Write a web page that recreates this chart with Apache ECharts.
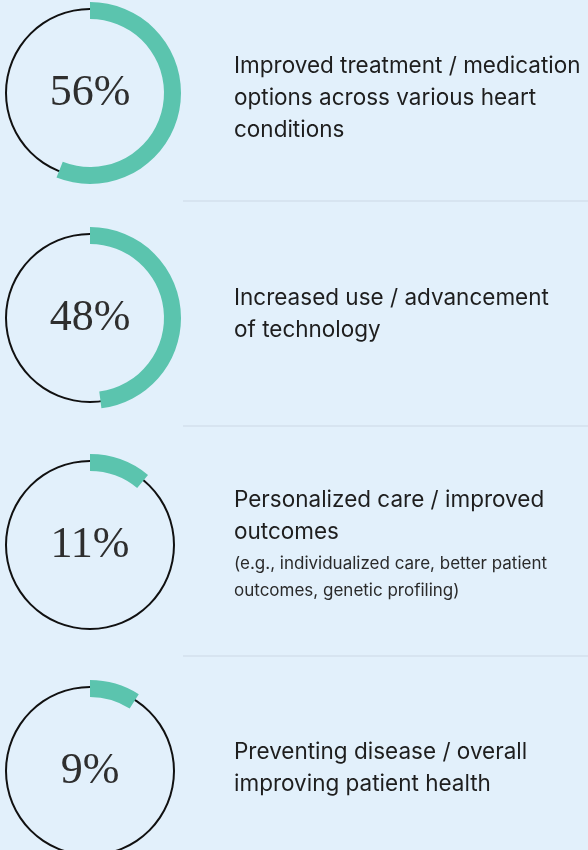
<!DOCTYPE html>
<html>
<head>
<meta charset="utf-8">
<script src="https://cdn.jsdelivr.net/npm/echarts@6/dist/echarts.min.js"></script>
<style>
  html, body { margin: 0; padding: 0; background: #e2f0fb; }
  #chart { width: 588px; height: 850px; }
</style>
</head>
<body>
<div id="chart"></div>
<script>
// data
var shares = [56, 48, 11, 9];
var titles = [
    ["Improved treatment / medication", "options across various heart", "conditions"],
    ["Increased use / advancement", "of technology"],
    ["Personalized care / improved", "outcomes"],
    ["Preventing disease / overall", "improving patient health"]
];
var notes = [
    [],
    [],
    ["(e.g., individualized care, better patient", "outcomes, genetic profiling)"],
    []
];

// layout
var rowCenters = [93, 318, 545, 771];
var textTops = [65, 297, 499, 751];
var dividers = [201, 426, 656];
var teal = '#5bc4ae';

var myChart = echarts.init(document.getElementById('chart'));

var series = [];
var graphics = [];

for (var i = 0; i < shares.length; i++) {
    // thin black ring
    series.push({
        type: 'pie',
        silent: true,
        center: [90, rowCenters[i]],
        radius: [83, 85],
        label: {show: false},
        labelLine: {show: false},
        itemStyle: {color: '#111'},
        data: [{value: 100}]
    });
    // teal share arc + centre number
    series.push({
        type: 'pie',
        silent: true,
        center: [90, rowCenters[i]],
        radius: [74, 91],
        startAngle: 90,
        clockwise: true,
        labelLine: {show: false},
        label: {show: false},
        data: [
            {
                value: shares[i],
                itemStyle: {color: teal},
                label: {
                    show: true,
                    position: 'center',
                    formatter: shares[i] + '%',
                    fontFamily: 'Liberation Serif',
                    fontSize: 44,
                    color: '#2e2e2e'
                }
            },
            {value: 100 - shares[i], itemStyle: {color: 'transparent'}}
        ]
    });

    var y = textTops[i];
    for (var j = 0; j < titles[i].length; j++) {
        graphics.push({
            type: 'text',
            x: 234,
            y: y + 1,
            style: {
                text: titles[i][j],
                fontFamily: 'Inter',
                fontSize: 22.5,
                verticalAlign: 'middle',
                fill: '#1e1e1e'
            }
        });
        y += 32;
    }
    for (var k = 0; k < notes[i].length; k++) {
        graphics.push({
            type: 'text',
            x: 234,
            y: y + (k === 0 ? 1 : 0),
            style: {
                text: notes[i][k],
                fontFamily: 'Inter',
                fontSize: 17,
                verticalAlign: 'middle',
                fill: '#2a2a2a'
            }
        });
        y += 28;
    }
}

for (var d = 0; d < dividers.length; d++) {
    graphics.push({
        type: 'line',
        silent: true,
        shape: {x1: 183, y1: dividers[d], x2: 588, y2: dividers[d]},
        style: {stroke: '#d3e1ec', lineWidth: 1.5}
    });
}

var option = {
    backgroundColor: '#e2f0fb',
    animation: false,
    series: series,
    graphic: graphics
};
myChart.setOption(option);
</script>
</body>
</html>
